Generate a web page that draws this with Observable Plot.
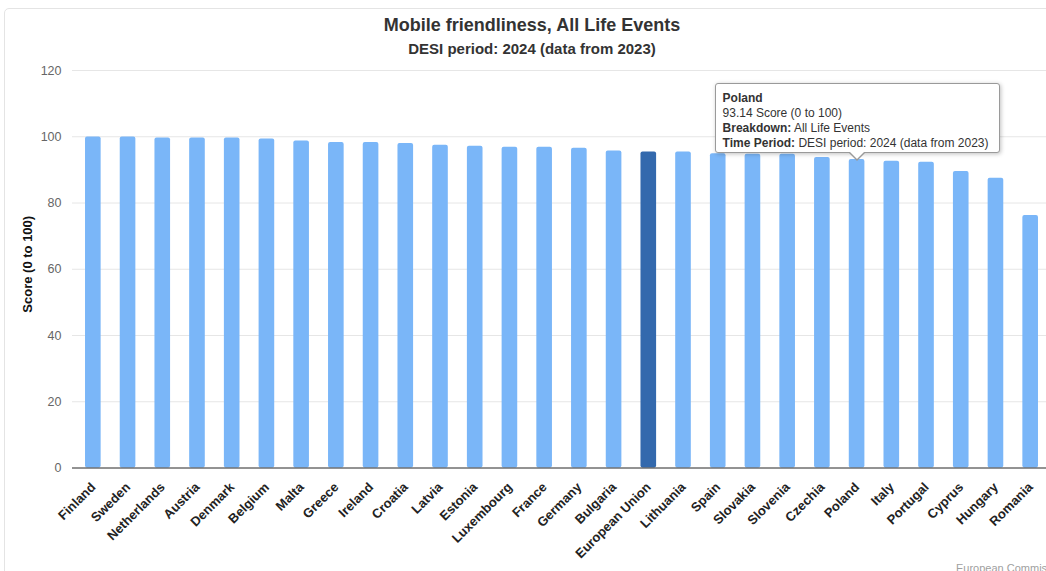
<!DOCTYPE html>
<html><head><meta charset="utf-8">
<script src="https://cdn.jsdelivr.net/npm/d3@7"></script>
<script src="https://cdn.jsdelivr.net/npm/@observablehq/plot@0.6"></script>
<style>
body{margin:0;background:#fff;}
#wrap{position:relative;width:1046px;height:571px;overflow:hidden;font-family:"Liberation Sans",Arial,sans-serif;}
#frame{position:absolute;left:4px;top:8px;width:1080px;height:620px;border:1px solid #e4e4e4;border-radius:5px;box-sizing:border-box;}
#head{position:relative;height:60px;text-align:center;color:#333;}
#title{position:absolute;left:18px;right:0;top:15px;font-weight:bold;font-size:18px;font-family:"Liberation Sans Narrow","Arial Narrow","Liberation Sans",sans-serif;}
#sub{position:absolute;left:18px;right:0;top:40px;font-weight:bold;font-size:15px;font-family:"Liberation Sans Narrow","Arial Narrow","Liberation Sans",sans-serif;}
#chart{position:relative;}
#tip{position:absolute;background:#fff;border:1px solid #9a9a9a;border-radius:3px;box-shadow:1px 1px 4px rgba(0,0,0,0.25);padding:7px 8px 6px 7px;font-size:12px;line-height:15px;color:#333;white-space:nowrap;box-sizing:border-box;}
#tip .arrow{position:absolute;width:0;height:0;border-left:8px solid transparent;border-right:8px solid transparent;border-top:8px solid #9a9a9a;}
#tip .arrow2{position:absolute;width:0;height:0;border-left:7px solid transparent;border-right:7px solid transparent;border-top:7px solid #fff;}
#credit{position:absolute;left:956px;top:562px;font-size:11px;color:#a0a0a0;white-space:nowrap;}
</style></head>
<body>
<div id="wrap">
  <div id="frame"></div>
  <div id="head"><div id="title"></div><div id="sub"></div></div>
  <div id="chart"></div>
  <div id="credit"></div>
</div>
<script>
const titleText = "Mobile friendliness, All Life Events";
const subtitleText = "DESI period: 2024 (data from 2023)";
const yLabel = "Score (0 to 100)";
const creditText = "European Commission";
const countries = ["Finland","Sweden","Netherlands","Austria","Denmark","Belgium","Malta","Greece","Ireland","Croatia","Latvia","Estonia","Luxembourg","France","Germany","Bulgaria","European Union","Lithuania","Spain","Slovakia","Slovenia","Czechia","Poland","Italy","Portugal","Cyprus","Hungary","Romania"];
const scores = [99.9,99.9,99.6,99.6,99.6,99.3,98.7,98.3,98.3,98.0,97.4,97.1,96.8,96.8,96.5,95.7,95.4,95.4,94.9,94.7,94.7,93.7,93.14,92.6,92.3,89.5,87.5,76.2];
const yTicks = [0,20,40,60,80,100,120];
const highlight = "European Union";
const tipCountry = "Poland";
const tipBreakdown = "All Life Events";

const data = countries.map((c,i)=>({country:c, score:scores[i]}));
document.getElementById("title").textContent = titleText;
document.getElementById("sub").textContent = subtitleText;
document.getElementById("credit").textContent = creditText;

const headH = 60;
const chart = Plot.plot({
  width:1046, height:511, marginTop:10, marginBottom:103.5, marginLeft:72, marginRight:0,
  style:{fontFamily:"'Liberation Sans', Arial, sans-serif", fontSize:"12px", background:"transparent", overflow:"visible"},
  x:{domain:countries, range:[72,1051], paddingInner:0.55, paddingOuter:0.375, round:false, label:null},
  y:{domain:[0,120], label:null},
  marks:[
    Plot.gridY(yTicks,{stroke:"#e6e6e6", strokeOpacity:1}),
    Plot.barY(data.filter(d=>d.country!==highlight),{x:"country", y:"score", fill:"#7ab6f8", rx:2}),
    Plot.barY(data.filter(d=>d.country===highlight),{x:"country", y:"score", fill:"#3369ad", rx:2}),
    Plot.ruleY([0],{stroke:"#333", strokeWidth:1}),
    Plot.axisY(yTicks,{tickSize:0, tickPadding:11, fill:"#666", fontSize:12.5, label:null}),
    Plot.axisX({tickSize:0, tickRotate:-45, tickPadding:17, fontSize:13, fontWeight:"bold", fill:"#222", label:null}),
    Plot.text([yLabel],{text:d=>d, frameAnchor:"left", dx:-45, dy:-5, rotate:-90, textAnchor:"middle", fontSize:13, fontWeight:"bold", fill:"#111"})
  ]
});
document.getElementById("chart").appendChild(chart);

// tooltip anchored to Poland bar via the plot scales
const xs = chart.scale("x"), ys = chart.scale("y");
const ti = countries.indexOf(tipCountry);
const cx = xs.apply(tipCountry) + xs.bandwidth/2;
const ty = ys.apply(scores[ti]) + headH;
const tip = document.createElement("div");
tip.id = "tip";
const b = (t)=>{const e=document.createElement("b");e.textContent=t;return e;};
tip.appendChild(b(tipCountry)); tip.appendChild(document.createElement("br"));
tip.appendChild(document.createTextNode(scores[ti] + " " + yLabel)); tip.appendChild(document.createElement("br"));
tip.appendChild(b("Breakdown:")); tip.appendChild(document.createTextNode(" " + tipBreakdown)); tip.appendChild(document.createElement("br"));
tip.appendChild(b("Time Period:")); tip.appendChild(document.createTextNode(" " + subtitleText));
const W = 285, H = 70;
tip.style.left = (cx - 142) + "px";
tip.style.top = (ty - 6 - H) + "px";
tip.style.width = W + "px";
tip.style.height = H + "px";
const a1 = document.createElement("div"); a1.className="arrow"; a1.style.left=(142-9)+"px"; a1.style.top=(H-1)+"px";
const a2 = document.createElement("div"); a2.className="arrow2"; a2.style.left=(142-8)+"px"; a2.style.top=(H-2)+"px";
tip.appendChild(a1); tip.appendChild(a2);
document.getElementById("wrap").appendChild(tip);
</script>
</body></html>
